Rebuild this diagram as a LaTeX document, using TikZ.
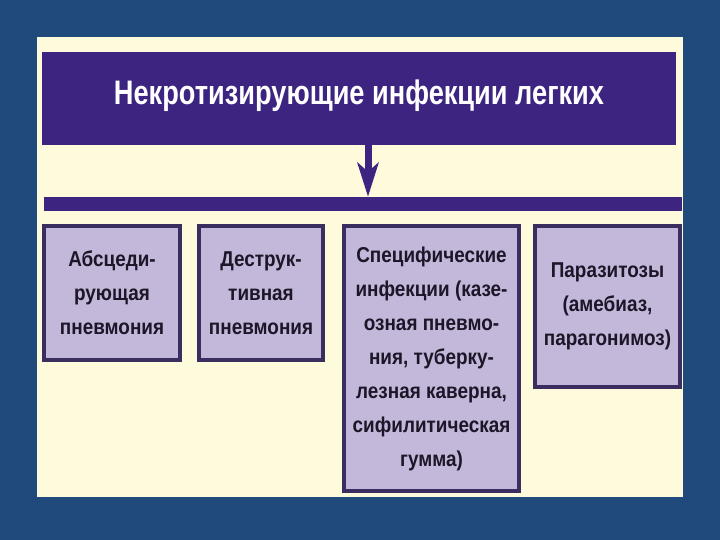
\documentclass[tikz,border=0pt]{standalone}
\usepackage{fontspec}
\usepackage{tikz}
\usetikzlibrary{arrows.meta,positioning,calc}
\newfontfamily\titlefont[FakeStretch=0.8]{Liberation Sans}
\newfontfamily\boxfont[FakeStretch=0.88]{Liberation Sans}
\definecolor{slidebg}{HTML}{1F4A7B}
\definecolor{panelbg}{HTML}{FEFBDD}
\definecolor{titlebg}{HTML}{3D2480}
\definecolor{boxfill}{HTML}{C3B8DA}
\definecolor{boxline}{HTML}{3A2D5F}
\definecolor{boxtext}{HTML}{1C1628}

\begin{document}
\begin{tikzpicture}[x=1pt,y=-1pt,
    cat/.style={rectangle, draw=boxline, line width=4pt, fill=boxfill, align=center, text=boxtext, inner sep=0pt,
      font={\boxfont\bfseries\fontsize{21.5}{34}\selectfont}},
    arrow/.style={-{Stealth[length=34pt,width=21pt,inset=9pt]}, line width=7pt, draw=titlebg}
  ]
    % slide and panel
    \fill[slidebg] (0,0) rectangle (720,540);
    \fill[panelbg] (37,37) rectangle (683,497);
    \useasboundingbox (0,0) rectangle (720,540);

    \node[fill=titlebg, minimum width=634pt, minimum height=93pt, inner sep=0pt, text=white,
      text height=22pt, text depth=9pt,
      font={\titlefont\bfseries\fontsize{34}{38}\selectfont}] (title) at (359,98.5) {Некротизирующие инфекции легких};
    \node[fill=titlebg, minimum width=638pt, minimum height=14pt, inner sep=0pt] (bar) at (363,204) {};
    \coordinate (drop) at (368,0);
    \draw[arrow] (title.south -| drop) -- (bar.north -| drop);

    \node[cat, minimum width=136pt, minimum height=134pt] (absc) at (112,293) {Абсцеди-\\рующая\\пневмония};
    \node[cat, minimum width=124pt, minimum height=134pt] (destr) at (261,293) {Деструк-\\тивная\\пневмония};
    \node[cat, minimum width=175pt, minimum height=265pt] (spec) at (431.5,358.5) {Специфические\\инфекции (казе-\\озная пневмо-\\ния, туберку-\\лезная каверна,\\сифилитическая\\гумма)};
    \node[cat, minimum width=145pt, minimum height=161pt] (paras) at (607.5,306.5) {Паразитозы\\(амебиаз,\\парагонимоз)};
  \end{tikzpicture}
\end{document}
